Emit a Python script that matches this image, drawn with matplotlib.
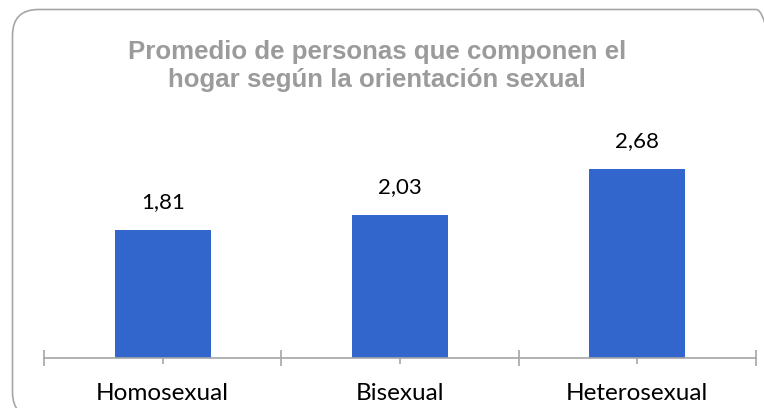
import matplotlib
matplotlib.use("Agg")
import matplotlib.pyplot as plt
from matplotlib.patches import FancyBboxPatch

categories = ["Homosexual", "Bisexual", "Heterosexual"]
values = [1.81, 2.03, 2.68]
value_labels = ["1,81", "2,03", "2,68"]
title = "Promedio de personas que componen el\nhogar según la orientación sexual"

W, H = 764, 408
fig = plt.figure(figsize=(W / 100, H / 100), dpi=100)

# background axes in pixel coordinates (y upward) for the rounded border
bg = fig.add_axes([0, 0, 1, 1])
bg.set_xlim(0, W)
bg.set_ylim(0, H)
bg.axis("off")
bx0, bx1 = 12.5, 782
by_top, by_bot = 9.5, 418
r = 26
box = FancyBboxPatch((bx0, H - by_bot), bx1 - bx0, by_bot - by_top,
                     boxstyle=f"round,pad=0,rounding_size={r}",
                     fill=False, edgecolor="#A6A6A6", linewidth=1.2)
bg.add_patch(box)

ax_left, ax_right = 44, 756
ax_bottom = 358
ymax = 3.2
px_per_unit = 70.5
ax_top = ax_bottom - ymax * px_per_unit
ax = fig.add_axes([ax_left / W, 1 - ax_bottom / H, (ax_right - ax_left) / W, (ax_bottom - ax_top) / H])
ax.patch.set_alpha(0)

x = list(range(len(categories)))
ax.bar(x, values, width=0.405, color="#3366CC", zorder=2)
ax.set_xlim(-0.5, len(categories) - 0.5)
ax.set_ylim(0, ymax)

for xi, v, lab in zip(x, values, value_labels):
    ax.annotate(lab, (xi, v), xytext=(0, 13), textcoords="offset points",
                ha="center", va="bottom", fontsize=16, family="Lato", color="#000000")

for s in ["top", "right", "left"]:
    ax.spines[s].set_visible(False)
ax.spines["bottom"].set_color("#A6A6A6")
ax.spines["bottom"].set_linewidth(1.2)
ax.set_yticks([])
ax.set_xticks(x)
ax.set_xticklabels(categories, fontsize=17.5, family="Lato", color="#000000")
ax.set_xticks([-0.5 + i for i in range(len(categories) + 1)], minor=True)
ax.tick_params(axis="x", which="major", direction="inout", length=8.5, width=1.2,
               color="#A6A6A6", pad=14)
ax.tick_params(axis="x", which="minor", direction="inout", length=11, width=1.2,
               color="#A6A6A6")

fig.text(377 / W, 1 - 66 / H, title, ha="center", va="center", fontsize=18.6,
         fontweight="bold", family="Liberation Sans", color="#9B9B9B", linespacing=1.22)

fig.savefig("out.png", dpi=100)
